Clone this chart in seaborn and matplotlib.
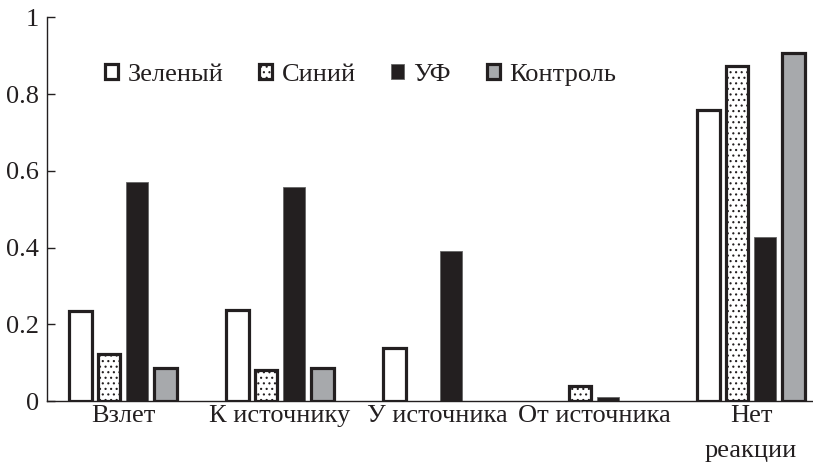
import numpy as np
import pandas as pd
import matplotlib
matplotlib.use("Agg")
import matplotlib.pyplot as plt
import seaborn as sns
from matplotlib.patches import Patch

# ---- data ----
categories = ["Взлет", "К источнику", "У источника", "От источника", "Нет\nреакции"]
series = ["Зеленый", "Синий", "УФ", "Контроль"]
green = [0.235, 0.238, 0.138, 0.0, 0.758]
blue = [0.122, 0.081, 0.0, 0.040, 0.874]
uv = [0.572, 0.557, 0.391, 0.011, 0.427]
control = [0.087, 0.087, 0.0, 0.0, 0.906]
yticks = [0, 0.2, 0.4, 0.6, 0.8, 1]
ytick_labels = ["0", "0.2", "0.4", "0.6", "0.8", "1"]

values = {"Зеленый": green, "Синий": blue, "УФ": uv, "Контроль": control}
df = pd.DataFrame(
    [(c, s, values[s][i]) for s in series for i, c in enumerate(categories)],
    columns=["cat", "series", "value"],
)

sns.set_theme(style="white")
plt.rcParams["font.family"] = "serif"
plt.rcParams["font.serif"] = ["Liberation Serif", "DejaVu Serif"]
plt.rcParams["hatch.linewidth"] = 0.8

ink = "#231f20"
styles = {
    "Зеленый": dict(facecolor="white", edgecolor=ink, linewidth=2.3, hatch=None),
    "Синий": dict(facecolor="white", edgecolor=ink, linewidth=2.3, hatch="..."),
    "УФ": dict(facecolor=ink, edgecolor="#666666", linewidth=0.6, hatch=None),
    "Контроль": dict(facecolor="#a7a9ac", edgecolor=ink, linewidth=2.3, hatch=None),
}

fig = plt.figure(figsize=(8.13, 4.65), dpi=100)
ax = fig.add_axes([47 / 813, 64 / 465, 1 - 47 / 813, (401 - 17.3) / 465])

sns.barplot(
    data=df, x="cat", y="value", hue="series", order=categories,
    hue_order=series, width=0.72, gap=0.2, dodge=True, legend=False,
    palette=["white"] * 4, ax=ax, errorbar=None,
)

for s, cont in zip(series, ax.containers):
    st = styles[s]
    for p in cont.patches:
        p.set_facecolor(st["facecolor"])
        p.set_edgecolor(st["edgecolor"])
        p.set_linewidth(st["linewidth"])
        if st["hatch"]:
            p.set_hatch(st["hatch"])
        if p.get_height() == 0:
            p.set_visible(False)

ax.set_xlim(-0.484, 4.395)
ax.set_ylim(0, 1)
ax.set_yticks(yticks)
ax.set_yticklabels(ytick_labels)
ax.set_xlabel("")
ax.set_ylabel("")
for sp in ["top", "right"]:
    ax.spines[sp].set_visible(False)
for sp in ["left", "bottom"]:
    ax.spines[sp].set_color(ink)
    ax.spines[sp].set_linewidth(1.0)
ax.tick_params(axis="y", direction="in", length=6, width=1, pad=6,
               labelsize=19, colors=ink, left=True)
ax.tick_params(axis="x", length=0, pad=3, labelsize=19, colors=ink)
for lbl in ax.get_xticklabels():
    lbl.set_linespacing(1.75)
    lbl.set_verticalalignment("top")

handles = [Patch(**styles[s], label=s) for s in series]
ax.legend(handles=handles, loc="center left", bbox_to_anchor=(0.062, 0.85),
          ncol=4, frameon=False, fontsize=19, handlelength=0.5,
          handleheight=0.5, handletextpad=0.35, columnspacing=1.35,
          labelcolor=ink, borderaxespad=0)

fig.savefig("out.png", dpi=100)
